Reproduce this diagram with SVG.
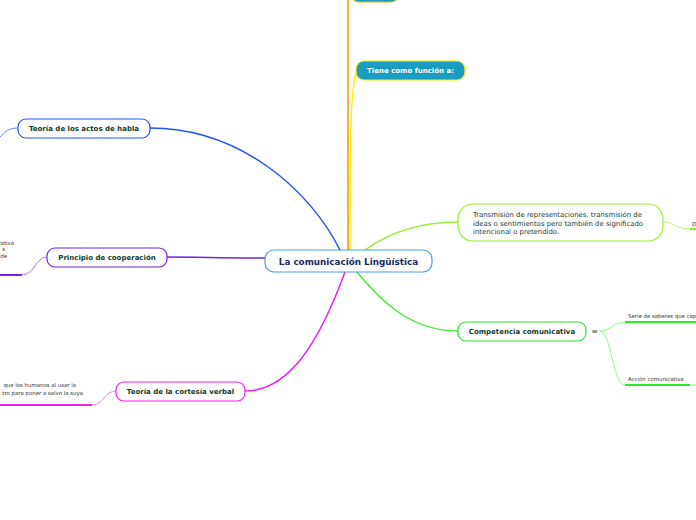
<svg xmlns="http://www.w3.org/2000/svg" width="696" height="520" viewBox="0 0 696 520">
<style>
.node{fill:#fff;stroke-width:1.2}
.t{font-family:"DejaVu Sans",Verdana,sans-serif;font-weight:bold;font-size:7px;fill:#0f3b2e}
.r{font-family:"DejaVu Sans",Verdana,sans-serif;font-size:6.9px;fill:#1e3b33}
.s{font-family:"DejaVu Sans",Verdana,sans-serif;font-size:5.4px;fill:#333}
.c{fill:none;stroke-linecap:round}
</style>
<rect width="696" height="520" fill="#fff"/>
<g id="connectors">
<path class="c" d="M348,250 L348,0" stroke="#ff9900" stroke-width="1.6"/>
<path class="c" d="M350,250 C350,150 350,82 357,72" stroke="#ffee00" stroke-width="1.4"/>
<path class="c" d="M340,250 C310,190 240,128 150,128" stroke="#2255ee" stroke-width="1.5"/>
<path class="c" d="M265,258 C220,258 200,257 167,257" stroke="#7722dd" stroke-width="1.5"/>
<path class="c" d="M345,272 C320,340 290,391 245,391" stroke="#ee22ee" stroke-width="1.5"/>
<path class="c" d="M365,250 C390,232 420,222 458,222" stroke="#99ee33" stroke-width="1.5"/>
<path class="c" d="M357,272 C380,300 410,331 458,331" stroke="#44ee33" stroke-width="1.5"/>
<path class="c" d="M18,128 C8,128 5,132 0,137" stroke="#6688ff" stroke-width="1"/>
<path class="c" d="M47,257 C35,257 35,275 22,275" stroke="#aa77ff" stroke-width="1"/>
<path d="M0,275 L22,275" stroke="#7722dd" stroke-width="2"/>
<path class="c" d="M116,391 C104,391 104,405 92,405" stroke="#ff77ff" stroke-width="1"/>
<path d="M0,405 L92,405" stroke="#ee22ee" stroke-width="2"/>
<path class="c" d="M663,222 C675,222 675,229 690,229" stroke="#bbf577" stroke-width="1"/>
<path d="M690,229 L696,229" stroke="#88ee22" stroke-width="2"/>
<path class="c" d="M600,331 C612,331 612,322 625,322" stroke="#88ff88" stroke-width="1"/>
<path class="c" d="M600,331 C612,331 612,385 625,385" stroke="#88ff88" stroke-width="1"/>
<path d="M625,322 L696,322" stroke="#22ee22" stroke-width="2"/>
<path d="M625,385 L690,385" stroke="#22ee22" stroke-width="2"/>
<path d="M690,385 L696,385" stroke="#88ff88" stroke-width="1"/>
</g>
<g id="n-top">
<rect x="351" y="-18" width="48" height="20" rx="8" fill="#1a9cc0" stroke="#ffaa00" stroke-width="1.2"/>
</g>
<g id="n-funcion">
<rect x="356" y="61" width="109" height="19" rx="8" fill="#1a9cc0" stroke="#ffee00" stroke-width="1.2"/>
<text x="410.5" y="73" text-anchor="middle" class="t" style="fill:#fff">Tiene como función a:</text>
</g>
<g id="n-center">
<rect x="265" y="250" width="167" height="22" rx="9" class="node" stroke="#4a9fdc"/>
<text x="348.5" y="264.5" text-anchor="middle" style="font-family:'DejaVu Sans',Verdana,sans-serif;font-weight:bold;font-size:8.8px;fill:#1a2b5c">La comunicación Lingüística</text>
</g>
<g id="n-actos">
<rect x="18" y="119" width="132" height="19" rx="8" class="node" stroke="#2255ee"/>
<text x="84" y="131" text-anchor="middle" class="t">Teoría de los actos de habla</text>
</g>
<g id="n-coop">
<rect x="47" y="248" width="120" height="19" rx="8" class="node" stroke="#7722dd"/>
<text x="107" y="260" text-anchor="middle" class="t">Principio de cooperación</text>
</g>
<g id="n-coop-txt">
<text x="14" y="245" text-anchor="end" class="s">rativa</text>
<text x="5" y="251" text-anchor="end" class="s">s</text>
<text x="7" y="258" text-anchor="end" class="s">de</text>
</g>
<g id="n-cortesia">
<rect x="116" y="382" width="129" height="19" rx="8" class="node" stroke="#ee22ee"/>
<text x="180.5" y="394" text-anchor="middle" class="t">Teoría de la cortesía verbal</text>
</g>
<g id="n-cortesia-txt">
<text x="76" y="387" text-anchor="end" class="s">que los humanos al usar la</text>
<text x="83" y="394.5" text-anchor="end" class="s">tro para poner a salvo la suya</text>
</g>
<g id="n-transmision">
<rect x="458" y="204" width="205" height="37" rx="15" class="node" stroke="#99ee33"/>
<text x="473" y="216.5" class="r">Transmisión de representaciones, transmisión de</text>
<text x="473" y="225.5" class="r">ideas o sentimientos pero también de significado</text>
<text x="473" y="234" class="r">intencional o pretendido.</text>
</g>
<g id="n-d">
<text x="692" y="226" class="s">D</text>
</g>
<g id="n-competencia">
<rect x="458" y="322" width="128" height="19" rx="8" class="node" stroke="#33dd33"/>
<text x="522" y="334" text-anchor="middle" class="t">Competencia comunicativa</text>
<text x="594.5" y="334" text-anchor="middle" style="font-family:'DejaVu Sans',sans-serif;font-size:8px;fill:#444">≡</text>
</g>
<g id="n-serie">
<text x="628" y="318" class="s">Serie de saberes que cap</text>
</g>
<g id="n-accion">
<text x="628" y="381" class="s">Acción comunicativa</text>
</g>
</svg>
